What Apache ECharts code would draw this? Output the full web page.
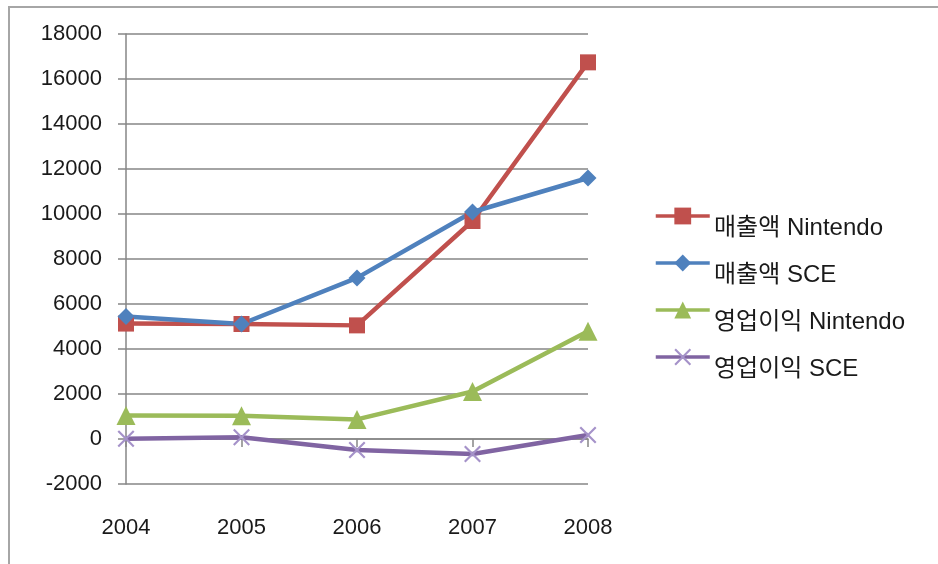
<!DOCTYPE html>
<html><head><meta charset="utf-8">
<script src="https://cdn.jsdelivr.net/npm/echarts@6/dist/echarts.min.js"></script>
<style>html,body{margin:0;padding:0;background:#fff;}#c{width:938px;height:564px;}</style>
</head><body><div id="c"></div>
<script>
const years = ['2004','2005','2006','2007','2008'];
const salesNintendo = [5130, 5110, 5050, 9690, 16740];
const salesSCE = [5440, 5110, 7160, 10090, 11600];
const opNintendo = [1040, 1030, 870, 2110, 4790];
const opSCE = [10, 75, -490, -670, 180];
const yTicks = {min: -2000, max: 18000, step: 2000};
const names = ['매출액 Nintendo', '매출액 SCE', '영업이익 Nintendo', '영업이익 SCE'];

const crossPath = 'path://M0,0.9L0.9,0L10,9.1L9.1,10Z M9.1,0L10,0.9L0.9,10L0,9.1Z';
const chart = echarts.init(document.getElementById('c'), null, {renderer: 'canvas'});
function mk(name, data, color, symbol, size, symColor) {
  return {
    name, type: 'line', data, symbol, symbolSize: size,
    lineStyle: {color, width: 4.5},
    itemStyle: {color: symColor || color},
    color: color,
    emphasis: {disabled: true}, animation: false, z: 3
  };
}
const numFont = "'Liberation Sans', Arial, sans-serif";
const legendText = {fontFamily: "'Liberation Sans', 'Noto Sans CJK KR', sans-serif", fontSize: 24, color: '#1a1a1a', lineHeight: 24};
chart.setOption({
  animation: false,
  graphic: [{type: 'rect', shape: {x: 9, y: 7, width: 1200, height: 1200}, style: {fill: 'none', stroke: '#a6a6a6', lineWidth: 2}, z: -1}],
  grid: {left: 126, right: 350, top: 34, bottom: 80, containLabel: false, outerBoundsMode: 'none'},
  legend: [{
    orient: 'vertical', left: 649, top: 199, itemWidth: 54, itemHeight: 21, itemGap: 23,
    lineStyle: {width: 3.5}, selectedMode: false,
    textStyle: legendText, formatter: () => ' ',
    data: names
  }, {
    orient: 'vertical', left: 649, top: 211, itemWidth: 54, itemHeight: 21, itemGap: 23,
    itemStyle: {opacity: 0}, lineStyle: {opacity: 0}, selectedMode: false,
    textStyle: legendText,
    data: names
  }],
  xAxis: {
    type: 'category', data: years, boundaryGap: false,
    axisLine: {onZero: true, lineStyle: {color: '#868686', width: 1.5}},
    axisTick: {show: true, length: 8, lineStyle: {color: '#868686', width: 1.5}},
    axisLabel: {margin: 33, fontFamily: numFont, fontSize: 22, color: '#1a1a1a'},
    splitLine: {show: false}
  },
  yAxis: {
    type: 'value', min: yTicks.min, max: yTicks.max, interval: yTicks.step,
    axisLine: {show: true, lineStyle: {color: '#868686', width: 1.5}},
    axisTick: {show: true, length: 8, lineStyle: {color: '#868686', width: 1.5}},
    axisLabel: {margin: 24, fontFamily: numFont, fontSize: 22, color: '#1a1a1a', formatter: v => String(v)},
    splitLine: {show: true, lineStyle: {color: '#868686', width: 1.5}}
  },
  series: [
    mk(names[0], salesNintendo, '#C0504D', 'rect', 16),
    mk(names[1], salesSCE, '#4F81BD', 'diamond', 17),
    mk(names[2], opNintendo, '#9BBB59', 'triangle', 19),
    mk(names[3], opSCE, '#8064A2', crossPath, 17, '#A592C9')
  ]
});
</script></body></html>
